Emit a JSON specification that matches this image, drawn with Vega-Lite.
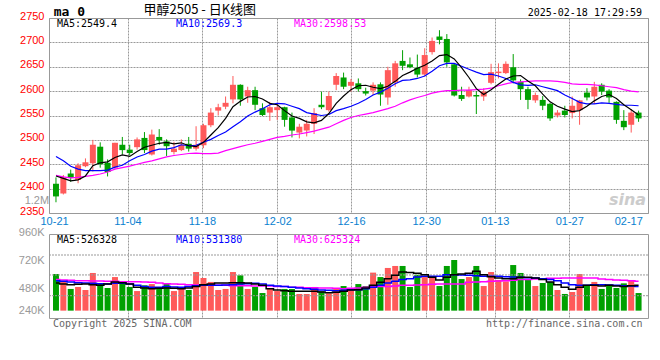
{
"$schema": "https://vega.github.io/schema/vega-lite/v6.json",
"background": "white",
"padding": {"left": 17, "top": 3, "right": 8, "bottom": 4},
"spacing": 21,
"bounds": "flush",
"config": {
  "view": {"stroke": "#999999", "strokeWidth": 1},
  "axis": {"domain": false, "ticks": false, "gridColor": "#999999", "gridDash": [2, 1], "gridWidth": 1, "gridOpacity": 1, "labelOverlap": false, "labelFont": "Liberation Sans", "labelFontSize": 11}
},
"datasets": {
"k": [
{"i":0,"d":"10-21","o":2410,"h":2423,"l":2372,"c":2384,"v":617,"m5":2426,"m10":2466,"m30":2427,"vm5":540,"vm10":560,"vm30":569},
{"i":1,"d":"10-22","o":2390,"h":2428,"l":2388,"c":2423,"v":549,"m5":2421,"m10":2457,"m30":2424,"vm5":531,"vm10":554,"vm30":566},
{"i":2,"d":"10-23","o":2431,"h":2439,"l":2414,"c":2422,"v":489,"m5":2416,"m10":2446,"m30":2422,"vm5":526,"vm10":549,"vm30":563},
{"i":3,"d":"10-24","o":2418,"h":2452,"l":2411,"c":2448,"v":506,"m5":2418,"m10":2440,"m30":2423,"vm5":529,"vm10":543,"vm30":560},
{"i":4,"d":"10-25","o":2446,"h":2462,"l":2444,"c":2454,"v":480,"m5":2426,"m10":2437,"m30":2425,"vm5":531,"vm10":540,"vm30":560},
{"i":5,"d":"10-28","o":2452,"h":2500,"l":2435,"c":2490,"v":626,"m5":2447,"m10":2437,"m30":2427,"vm5":526,"vm10":537,"vm30":557},
{"i":6,"d":"10-29","o":2486,"h":2495,"l":2443,"c":2450,"v":540,"m5":2453,"m10":2437,"m30":2430,"vm5":520,"vm10":534,"vm30":557},
{"i":7,"d":"10-30","o":2453,"h":2460,"l":2425,"c":2434,"v":497,"m5":2455,"m10":2438,"m30":2434,"vm5":531,"vm10":531,"vm30":554},
{"i":8,"d":"10-31","o":2443,"h":2494,"l":2440,"c":2494,"v":591,"m5":2464,"m10":2444,"m30":2440,"vm5":549,"vm10":537,"vm30":554},
{"i":9,"d":"11-01","o":2490,"h":2506,"l":2470,"c":2479,"v":554,"m5":2469,"m10":2448,"m30":2443,"vm5":543,"vm10":537,"vm30":551},
{"i":10,"d":"11-04","o":2480,"h":2490,"l":2468,"c":2473,"v":506,"m5":2466,"m10":2457,"m30":2446,"vm5":531,"vm10":531,"vm30":551},
{"i":11,"d":"11-05","o":2485,"h":2505,"l":2480,"c":2501,"v":471,"m5":2476,"m10":2465,"m30":2450,"vm5":503,"vm10":520,"vm30":551},
{"i":12,"d":"11-06","o":2504,"h":2516,"l":2473,"c":2479,"v":520,"m5":2485,"m10":2470,"m30":2454,"vm5":497,"vm10":511,"vm30":549},
{"i":13,"d":"11-07","o":2470,"h":2521,"l":2468,"c":2511,"v":531,"m5":2489,"m10":2477,"m30":2457,"vm5":491,"vm10":503,"vm30":546},
{"i":14,"d":"11-08","o":2506,"h":2522,"l":2490,"c":2499,"v":491,"m5":2493,"m10":2481,"m30":2461,"vm5":494,"vm10":503,"vm30":540},
{"i":15,"d":"11-11","o":2497,"h":2501,"l":2467,"c":2487,"v":534,"m5":2495,"m10":2481,"m30":2465,"vm5":497,"vm10":509,"vm30":534},
{"i":16,"d":"11-12","o":2475,"h":2496,"l":2470,"c":2482,"v":471,"m5":2492,"m10":2484,"m30":2468,"vm5":494,"vm10":506,"vm30":531},
{"i":17,"d":"11-13","o":2479,"h":2501,"l":2477,"c":2490,"v":503,"m5":2494,"m10":2490,"m30":2470,"vm5":491,"vm10":503,"vm30":529},
{"i":18,"d":"11-14","o":2492,"h":2506,"l":2476,"c":2482,"v":480,"m5":2488,"m10":2488,"m30":2472,"vm5":497,"vm10":509,"vm30":526},
{"i":19,"d":"11-15","o":2482,"h":2528,"l":2478,"c":2490,"v":634,"m5":2486,"m10":2489,"m30":2473,"vm5":511,"vm10":517,"vm30":523},
{"i":20,"d":"11-18","o":2489,"h":2533,"l":2483,"c":2530,"v":583,"m5":2495,"m10":2495,"m30":2472,"vm5":526,"vm10":520,"vm30":523},
{"i":21,"d":"11-19","o":2530,"h":2565,"l":2526,"c":2556,"v":549,"m5":2510,"m10":2501,"m30":2472,"vm5":531,"vm10":520,"vm30":520},
{"i":22,"d":"11-20","o":2560,"h":2574,"l":2550,"c":2567,"v":480,"m5":2525,"m10":2509,"m30":2473,"vm5":540,"vm10":520,"vm30":520},
{"i":23,"d":"11-21","o":2568,"h":2589,"l":2563,"c":2576,"v":489,"m5":2544,"m10":2516,"m30":2478,"vm5":540,"vm10":523,"vm30":520},
{"i":24,"d":"11-22","o":2583,"h":2631,"l":2575,"c":2613,"v":634,"m5":2568,"m10":2527,"m30":2482,"vm5":543,"vm10":526,"vm30":517},
{"i":25,"d":"11-25","o":2613,"h":2614,"l":2570,"c":2583,"v":606,"m5":2579,"m10":2537,"m30":2486,"vm5":543,"vm10":531,"vm30":517},
{"i":26,"d":"11-26","o":2589,"h":2609,"l":2576,"c":2602,"v":489,"m5":2588,"m10":2549,"m30":2490,"vm5":540,"vm10":534,"vm30":517},
{"i":27,"d":"11-27","o":2602,"h":2609,"l":2561,"c":2572,"v":506,"m5":2589,"m10":2557,"m30":2493,"vm5":531,"vm10":537,"vm30":514},
{"i":28,"d":"11-28","o":2565,"h":2575,"l":2549,"c":2551,"v":454,"m5":2584,"m10":2564,"m30":2497,"vm5":520,"vm10":531,"vm30":514},
{"i":29,"d":"11-29","o":2556,"h":2578,"l":2539,"c":2567,"v":497,"m5":2575,"m10":2572,"m30":2501,"vm5":491,"vm10":520,"vm30":514},
{"i":30,"d":"12-02","o":2561,"h":2576,"l":2541,"c":2567,"v":471,"m5":2572,"m10":2575,"m30":2505,"vm5":480,"vm10":514,"vm30":511},
{"i":31,"d":"12-03","o":2567,"h":2568,"l":2527,"c":2541,"v":489,"m5":2560,"m10":2574,"m30":2507,"vm5":474,"vm10":509,"vm30":509},
{"i":32,"d":"12-04","o":2546,"h":2556,"l":2505,"c":2519,"v":489,"m5":2549,"m10":2569,"m30":2510,"vm5":469,"vm10":503,"vm30":503},
{"i":33,"d":"12-05","o":2515,"h":2533,"l":2503,"c":2527,"v":446,"m5":2544,"m10":2564,"m30":2512,"vm5":469,"vm10":497,"vm30":503},
{"i":34,"d":"12-06","o":2519,"h":2541,"l":2507,"c":2533,"v":446,"m5":2537,"m10":2556,"m30":2515,"vm5":469,"vm10":491,"vm30":500},
{"i":35,"d":"12-09","o":2533,"h":2565,"l":2512,"c":2555,"v":506,"m5":2535,"m10":2553,"m30":2518,"vm5":469,"vm10":486,"vm30":500},
{"i":36,"d":"12-10","o":2572,"h":2599,"l":2563,"c":2567,"v":469,"m5":2540,"m10":2550,"m30":2522,"vm5":463,"vm10":480,"vm30":497},
{"i":37,"d":"12-11","o":2561,"h":2599,"l":2558,"c":2590,"v":451,"m5":2554,"m10":2552,"m30":2526,"vm5":457,"vm10":477,"vm30":497},
{"i":38,"d":"12-12","o":2613,"h":2637,"l":2602,"c":2631,"v":497,"m5":2575,"m10":2560,"m30":2533,"vm5":460,"vm10":474,"vm30":494},
{"i":39,"d":"12-13","o":2628,"h":2638,"l":2604,"c":2609,"v":514,"m5":2590,"m10":2564,"m30":2540,"vm5":469,"vm10":477,"vm30":491},
{"i":40,"d":"12-16","o":2611,"h":2625,"l":2599,"c":2619,"v":489,"m5":2603,"m10":2569,"m30":2546,"vm5":480,"vm10":483,"vm30":494},
{"i":41,"d":"12-17","o":2616,"h":2626,"l":2599,"c":2604,"v":531,"m5":2611,"m10":2575,"m30":2550,"vm5":483,"vm10":483,"vm30":497},
{"i":42,"d":"12-18","o":2600,"h":2607,"l":2591,"c":2595,"v":514,"m5":2612,"m10":2583,"m30":2553,"vm5":497,"vm10":491,"vm30":503},
{"i":43,"d":"12-19","o":2601,"h":2618,"l":2592,"c":2613,"v":629,"m5":2608,"m10":2592,"m30":2556,"vm5":520,"vm10":503,"vm30":511},
{"i":44,"d":"12-20","o":2614,"h":2618,"l":2570,"c":2593,"v":591,"m5":2605,"m10":2598,"m30":2560,"vm5":546,"vm10":520,"vm30":511},
{"i":45,"d":"12-23","o":2587,"h":2650,"l":2572,"c":2643,"v":669,"m5":2610,"m10":2606,"m30":2564,"vm5":577,"vm10":540,"vm30":511},
{"i":46,"d":"12-24","o":2618,"h":2662,"l":2609,"c":2657,"v":686,"m5":2620,"m10":2615,"m30":2569,"vm5":606,"vm10":554,"vm30":514},
{"i":47,"d":"12-25","o":2662,"h":2684,"l":2643,"c":2652,"v":686,"m5":2632,"m10":2622,"m30":2576,"vm5":634,"vm10":569,"vm30":520},
{"i":48,"d":"12-26","o":2655,"h":2669,"l":2647,"c":2649,"v":506,"m5":2639,"m10":2623,"m30":2582,"vm5":629,"vm10":577,"vm30":520},
{"i":49,"d":"12-27","o":2648,"h":2675,"l":2628,"c":2634,"v":611,"m5":2647,"m10":2626,"m30":2587,"vm5":623,"vm10":591,"vm30":523},
{"i":50,"d":"12-30","o":2634,"h":2688,"l":2630,"c":2674,"v":591,"m5":2653,"m10":2631,"m30":2591,"vm5":611,"vm10":597,"vm30":526},
{"i":51,"d":"12-31","o":2680,"h":2710,"l":2675,"c":2703,"v":591,"m5":2662,"m10":2641,"m30":2596,"vm5":589,"vm10":597,"vm30":529},
{"i":52,"d":"01-02","o":2712,"h":2725,"l":2696,"c":2705,"v":514,"m5":2673,"m10":2652,"m30":2599,"vm5":566,"vm10":597,"vm30":531},
{"i":53,"d":"01-03","o":2707,"h":2717,"l":2650,"c":2659,"v":686,"m5":2675,"m10":2657,"m30":2601,"vm5":589,"vm10":611,"vm30":531},
{"i":54,"d":"01-06","o":2655,"h":2656,"l":2589,"c":2591,"v":737,"m5":2666,"m10":2657,"m30":2601,"vm5":611,"vm10":611,"vm30":531},
{"i":55,"d":"01-07","o":2592,"h":2609,"l":2580,"c":2584,"v":574,"m5":2648,"m10":2651,"m30":2602,"vm5":617,"vm10":609,"vm30":531},
{"i":56,"d":"01-08","o":2589,"h":2609,"l":2587,"c":2602,"v":591,"m5":2628,"m10":2645,"m30":2602,"vm5":623,"vm10":606,"vm30":546},
{"i":57,"d":"01-09","o":2592,"h":2600,"l":2553,"c":2589,"v":686,"m5":2605,"m10":2639,"m30":2603,"vm5":640,"vm10":603,"vm30":549},
{"i":58,"d":"01-10","o":2589,"h":2606,"l":2580,"c":2599,"v":514,"m5":2593,"m10":2634,"m30":2604,"vm5":611,"vm10":597,"vm30":551},
{"i":59,"d":"01-13","o":2617,"h":2656,"l":2614,"c":2639,"v":634,"m5":2603,"m10":2635,"m30":2606,"vm5":594,"vm10":597,"vm30":554},
{"i":60,"d":"01-14","o":2637,"h":2657,"l":2626,"c":2640,"v":566,"m5":2614,"m10":2631,"m30":2611,"vm5":583,"vm10":597,"vm30":557},
{"i":61,"d":"01-15","o":2637,"h":2661,"l":2635,"c":2656,"v":554,"m5":2625,"m10":2626,"m30":2615,"vm5":577,"vm10":594,"vm30":560},
{"i":62,"d":"01-16","o":2649,"h":2676,"l":2616,"c":2622,"v":694,"m5":2631,"m10":2618,"m30":2618,"vm5":577,"vm10":591,"vm30":563},
{"i":63,"d":"01-17","o":2619,"h":2624,"l":2582,"c":2604,"v":626,"m5":2632,"m10":2613,"m30":2619,"vm5":589,"vm10":589,"vm30":569},
{"i":64,"d":"01-20","o":2604,"h":2609,"l":2563,"c":2582,"v":574,"m5":2621,"m10":2612,"m30":2620,"vm5":589,"vm10":586,"vm30":571},
{"i":65,"d":"01-21","o":2581,"h":2597,"l":2576,"c":2592,"v":514,"m5":2611,"m10":2613,"m30":2621,"vm5":583,"vm10":583,"vm30":574},
{"i":66,"d":"01-22","o":2582,"h":2590,"l":2561,"c":2570,"v":540,"m5":2594,"m10":2609,"m30":2621,"vm5":569,"vm10":577,"vm30":577},
{"i":67,"d":"01-23","o":2574,"h":2576,"l":2539,"c":2544,"v":549,"m5":2578,"m10":2605,"m30":2621,"vm5":549,"vm10":569,"vm30":580},
{"i":68,"d":"01-24","o":2550,"h":2561,"l":2546,"c":2556,"v":480,"m5":2569,"m10":2601,"m30":2620,"vm5":526,"vm10":560,"vm30":580},
{"i":69,"d":"01-27","o":2560,"h":2570,"l":2546,"c":2551,"v":446,"m5":2563,"m10":2592,"m30":2618,"vm5":503,"vm10":540,"vm30":583},
{"i":70,"d":"02-05","o":2555,"h":2589,"l":2544,"c":2570,"v":463,"m5":2558,"m10":2585,"m30":2615,"vm5":486,"vm10":526,"vm30":583},
{"i":71,"d":"02-06","o":2561,"h":2582,"l":2531,"c":2581,"v":617,"m5":2560,"m10":2577,"m30":2614,"vm5":503,"vm10":520,"vm30":583},
{"i":72,"d":"02-07","o":2597,"h":2606,"l":2581,"c":2587,"v":520,"m5":2569,"m10":2574,"m30":2614,"vm5":520,"vm10":520,"vm30":583},
{"i":73,"d":"02-10","o":2589,"h":2619,"l":2574,"c":2609,"v":549,"m5":2580,"m10":2574,"m30":2613,"vm5":520,"vm10":526,"vm30":583},
{"i":74,"d":"02-11","o":2613,"h":2616,"l":2592,"c":2599,"v":489,"m5":2589,"m10":2576,"m30":2611,"vm5":514,"vm10":526,"vm30":574},
{"i":75,"d":"02-12","o":2601,"h":2604,"l":2576,"c":2587,"v":526,"m5":2593,"m10":2575,"m30":2609,"vm5":520,"vm10":523,"vm30":569},
{"i":76,"d":"02-13","o":2578,"h":2579,"l":2533,"c":2541,"v":497,"m5":2585,"m10":2573,"m30":2607,"vm5":514,"vm10":520,"vm30":566},
{"i":77,"d":"02-14","o":2539,"h":2561,"l":2520,"c":2526,"v":537,"m5":2572,"m10":2571,"m30":2603,"vm5":511,"vm10":517,"vm30":563},
{"i":78,"d":"02-17","o":2531,"h":2563,"l":2515,"c":2556,"v":566,"m5":2562,"m10":2571,"m30":2600,"vm5":517,"vm10":514,"vm30":560},
{"i":79,"d":"02-18","o":2556,"h":2560,"l":2537,"c":2544,"v":454,"m5":2551,"m10":2570,"m30":2598.5,"vm5":520,"vm10":511,"vm30":554}
],
"vg": [{"g": 780}, {"g": 609}, {"g": 431}],
"one": [{}]
},
"vconcat": [
{
  "width": 599, "height": 195,
  "layer": [
    {
      "data": {"name": "k"},
      "mark": {"type": "rule", "strokeWidth": 1},
      "encoding": {
        "x": {"field": "i", "type": "quantitative", "scale": {"domain": [-0.267, 79.6], "nice": false, "zero": false},
          "axis": {"values": [-0.26, 9.7, 19.8, 30, 40, 50.2, 59.5, 69.6, 77.6], "tickCount": 30,
            "labelExpr": "datum.value < 5 ? '10-21' : datum.value < 15 ? '11-04' : datum.value < 25 ? '11-18' : datum.value < 35 ? '12-02' : datum.value < 45 ? '12-16' : datum.value < 55 ? '12-30' : datum.value < 65 ? '01-13' : datum.value < 73 ? '01-27' : '02-17'",
            "labelColor": "#0a7fd0", "labelFont": "Liberation Sans", "labelFontSize": 11, "labelPadding": 2, "labelAngle": 0, "labelOverlap": false, "labelFlush": false, "labelBound": false,
            "grid": true, "gridColor": {"condition": {"test": "datum.value < 0 || datum.value > 75", "value": "transparent"}, "value": "#999999"}, "title": null}},
        "y": {"field": "l", "type": "quantitative", "scale": {"domain": [2350, 2750], "nice": false, "zero": false},
          "axis": {"values": [2350, 2400, 2450, 2500, 2550, 2600, 2650, 2700, 2750], "tickCount": 30, "format": "d", "labelColor": "#ff0000", "labelPadding": 5, "labelOffset": -2, "labelFlush": false, "labelOverlap": false, "labelBound": false,
            "grid": true, "gridColor": "#999999", "gridDash": [2, 1], "title": null}},
        "y2": {"field": "h"},
        "color": {"condition": {"test": "datum.c >= datum.o", "value": "#ff5a5a"}, "value": "#00a000"}
      }
    },
    {
      "data": {"name": "k"},
      "mark": {"type": "bar", "size": 6},
      "encoding": {
        "x": {"field": "i", "type": "quantitative"},
        "y": {"field": "o", "type": "quantitative", "scale": {"domain": [2350, 2750], "nice": false, "zero": false}},
        "y2": {"field": "c"},
        "color": {"condition": {"test": "datum.c >= datum.o", "value": "#ff5a5a"}, "value": "#00a000"}
      }
    },
    {
      "data": {"name": "k"},
      "mark": {"type": "line", "color": "#ff00ff", "strokeWidth": 1.2},
      "encoding": {"x": {"field": "i", "type": "quantitative"}, "y": {"field": "m30", "type": "quantitative", "scale": {"domain": [2350, 2750], "nice": false, "zero": false}}}
    },
    {
      "data": {"name": "k"},
      "mark": {"type": "line", "color": "#0000ff", "strokeWidth": 1.2},
      "encoding": {"x": {"field": "i", "type": "quantitative"}, "y": {"field": "m10", "type": "quantitative", "scale": {"domain": [2350, 2750], "nice": false, "zero": false}}}
    },
    {
      "data": {"name": "k"},
      "mark": {"type": "line", "color": "#000000", "strokeWidth": 1.2},
      "encoding": {"x": {"field": "i", "type": "quantitative"}, "y": {"field": "m5", "type": "quantitative", "scale": {"domain": [2350, 2750], "nice": false, "zero": false}}}
    },
    {
      "data": {"name": "one"},
      "mark": {"type": "text", "align": "left", "baseline": "alphabetic", "font": "DejaVu Sans Mono", "fontSize": 10, "color": "#000000"},
      "encoding": {"x": {"datum": 0.13, "type": "quantitative"}, "y": {"datum": 2731, "type": "quantitative"}, "text": {"value": "MA5:2549.4"}}
    },
    {
      "data": {"name": "one"},
      "mark": {"type": "text", "align": "left", "baseline": "alphabetic", "font": "DejaVu Sans Mono", "fontSize": 10, "color": "#0000ff"},
      "encoding": {"x": {"datum": 16.27, "type": "quantitative"}, "y": {"datum": 2731, "type": "quantitative"}, "text": {"value": "MA10:2569.3"}}
    },
    {
      "data": {"name": "one"},
      "mark": {"type": "text", "align": "left", "baseline": "alphabetic", "font": "DejaVu Sans Mono", "fontSize": 10, "color": "#ff00ff"},
      "encoding": {"x": {"datum": 32.27, "type": "quantitative"}, "y": {"datum": 2731, "type": "quantitative"}, "text": {"value": "MA30:2598.53"}}
    },
    {
      "data": {"name": "one"},
      "mark": {"type": "text", "align": "left", "baseline": "alphabetic", "font": "DejaVu Sans Mono", "fontSize": 13, "fontWeight": "bold", "color": "#000000"},
      "encoding": {"x": {"datum": -0.31, "type": "quantitative"}, "y": {"datum": 2754, "type": "quantitative"}, "text": {"value": "ma 0"}}
    },
    {
      "data": {"name": "one"},
      "mark": {"type": "text", "align": "center", "baseline": "middle", "font": "Noto Sans CJK SC", "fontSize": 13, "color": "#000000"},
      "encoding": {"x": {"datum": 19.5, "type": "quantitative"}, "y": {"datum": 2767, "type": "quantitative"}, "text": {"value": "甲醇2505 - 日K线图"}}
    },
    {
      "data": {"name": "one"},
      "mark": {"type": "text", "align": "right", "baseline": "alphabetic", "font": "DejaVu Sans Mono", "fontSize": 10, "color": "#000000"},
      "encoding": {"x": {"datum": 79.47, "type": "quantitative"}, "y": {"datum": 2755, "type": "quantitative"}, "text": {"value": "2025-02-18 17:29:59"}}
    },
    {
      "data": {"name": "one"},
      "mark": {"type": "text", "align": "center", "baseline": "alphabetic", "font": "DejaVu Sans", "fontSize": 16, "fontWeight": "bold", "fontStyle": "italic", "color": "#cccccc"},
      "encoding": {"x": {"datum": 77.5, "type": "quantitative"}, "y": {"datum": 2366, "type": "quantitative"}, "text": {"value": "sina"}}
    }
  ]
},
{
  "width": 599, "height": 84,
  "layer": [
    {
      "data": {"name": "k"},
      "mark": {"type": "bar", "size": 6},
      "encoding": {
        "x": {"field": "i", "type": "quantitative", "scale": {"domain": [-0.267, 79.6], "nice": false, "zero": false},
          "axis": {"values": [-0.26, 9.7, 19.8, 30, 40, 50.2, 59.5, 69.6, 77.6], "tickCount": 30, "labels": false,
            "grid": true, "gridColor": {"condition": {"test": "datum.value < 0 || datum.value > 75", "value": "transparent"}, "value": "#999999"}, "title": null}},
        "y": {"field": "v", "type": "quantitative", "scale": {"domain": [240, 960], "nice": false, "zero": false},
          "axis": {"values": [240, 480, 720, 960], "tickCount": 30, "labelExpr": "datum.value + 'K'", "labelColor": "#999999", "labelPadding": 5, "labelFlush": false, "labelOverlap": false, "labelBound": false,
            "labelOffset": {"condition": {"test": "datum.value == 240", "value": -8}, "value": -2}, "grid": false, "title": null}},
        "y2": {"datum": 303},
        "color": {"condition": {"test": "datum.c >= datum.o", "value": "#ff5a5a"}, "value": "#00a000"}
      }
    },
    {
      "data": {"name": "vg"},
      "mark": {"type": "rule", "color": "#999999", "strokeWidth": 1, "strokeDash": [2, 1]},
      "encoding": {"y": {"field": "g", "type": "quantitative", "scale": {"domain": [240, 960], "nice": false, "zero": false}}}
    },
    {
      "data": {"name": "k"},
      "mark": {"type": "line", "color": "#ff00ff", "strokeWidth": 1.5, "interpolate": "step"},
      "encoding": {"x": {"field": "i", "type": "quantitative"}, "y": {"field": "vm30", "type": "quantitative", "scale": {"domain": [240, 960], "nice": false, "zero": false}}}
    },
    {
      "data": {"name": "k"},
      "mark": {"type": "line", "color": "#0000ff", "strokeWidth": 1.5, "interpolate": "step"},
      "encoding": {"x": {"field": "i", "type": "quantitative"}, "y": {"field": "vm10", "type": "quantitative", "scale": {"domain": [240, 960], "nice": false, "zero": false}}}
    },
    {
      "data": {"name": "k"},
      "mark": {"type": "line", "color": "#000000", "strokeWidth": 1.5, "interpolate": "step"},
      "encoding": {"x": {"field": "i", "type": "quantitative"}, "y": {"field": "vm5", "type": "quantitative", "scale": {"domain": [240, 960], "nice": false, "zero": false}}}
    },
    {
      "data": {"name": "one"},
      "mark": {"type": "text", "align": "left", "baseline": "alphabetic", "font": "DejaVu Sans Mono", "fontSize": 10, "color": "#000000"},
      "encoding": {"x": {"datum": 0.13, "type": "quantitative"}, "y": {"datum": 887, "type": "quantitative"}, "text": {"value": "MA5:526328"}}
    },
    {
      "data": {"name": "one"},
      "mark": {"type": "text", "align": "left", "baseline": "alphabetic", "font": "DejaVu Sans Mono", "fontSize": 10, "color": "#0000ff"},
      "encoding": {"x": {"datum": 16.27, "type": "quantitative"}, "y": {"datum": 887, "type": "quantitative"}, "text": {"value": "MA10:531380"}}
    },
    {
      "data": {"name": "one"},
      "mark": {"type": "text", "align": "left", "baseline": "alphabetic", "font": "DejaVu Sans Mono", "fontSize": 10, "color": "#ff00ff"},
      "encoding": {"x": {"datum": 32.27, "type": "quantitative"}, "y": {"datum": 887, "type": "quantitative"}, "text": {"value": "MA30:625324"}}
    },
    {
      "data": {"name": "one"},
      "mark": {"type": "text", "align": "right", "baseline": "middle", "font": "Liberation Sans", "fontSize": 11, "color": "#999999", "dy": -5},
      "encoding": {"x": {"datum": -0.93, "type": "quantitative"}, "y": {"datum": 1200, "type": "quantitative"}, "text": {"value": "1.2M"}}
    },
    {
      "data": {"name": "one"},
      "mark": {"type": "text", "align": "left", "baseline": "alphabetic", "font": "DejaVu Sans Mono", "fontSize": 10, "color": "#666666"},
      "encoding": {"x": {"datum": -0.4, "type": "quantitative"}, "y": {"datum": 163, "type": "quantitative"}, "text": {"value": "Copyright 2025 SINA.COM"}}
    },
    {
      "data": {"name": "one"},
      "mark": {"type": "text", "align": "right", "baseline": "alphabetic", "font": "DejaVu Sans Mono", "fontSize": 10, "color": "#666666"},
      "encoding": {"x": {"datum": 79.53, "type": "quantitative"}, "y": {"datum": 163, "type": "quantitative"}, "text": {"value": "http://finance.sina.com.cn"}}
    }
  ]
}
]
}
